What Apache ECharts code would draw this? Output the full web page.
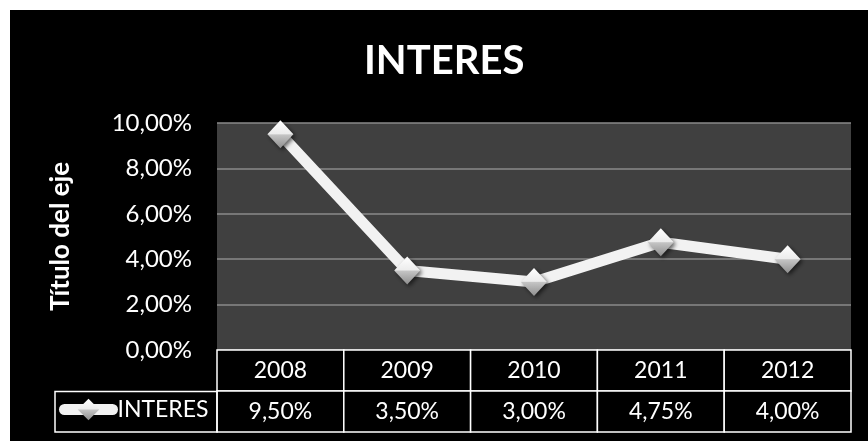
<!DOCTYPE html>
<html>
<head>
<meta charset="utf-8">
<script src="https://cdn.jsdelivr.net/npm/echarts@6/dist/echarts.min.js"></script>
<style>
  html, body { margin: 0; padding: 0; background: #ffffff; }
  #chart { position: absolute; left: 10px; top: 10px; width: 858px; height: 431px; }
</style>
</head>
<body>
<div id="chart"></div>
<script>
// Chart data
const years = ['2008', '2009', '2010', '2011', '2012'];
const interes = [0.095, 0.035, 0.03, 0.0475, 0.04];
const yMin = 0;
const yMax = 0.10;
const yStep = 0.02;
const seriesName = 'INTERES';
const chartTitle = 'INTERES';
const axisTitle = 'Título del eje';

// Spanish-style percentage: 9,50%
const pct = v => (v * 100).toFixed(2).replace('.', ',') + '%';

// Data table under the plot: row 0 = years, row 1 = values
const tableRows = [years, interes.map(pct)];
const tableCells = [];
tableRows.forEach((row, r) => row.forEach((_, c) => tableCells.push([c, r])));

const FONT = 'Lato, "Open Sans", sans-serif';

const markerFill = new echarts.graphic.LinearGradient(0, 0, 0, 1, [
  { offset: 0, color: '#ffffff' },
  { offset: 0.48, color: '#ececec' },
  { offset: 0.52, color: '#c4c4c4' },
  { offset: 1, color: '#8e8e8e' }
]);

const chart = echarts.init(document.getElementById('chart'), null, { renderer: 'canvas' });

chart.setOption({
  backgroundColor: '#000000',
  animation: false,
  title: {
    text: chartTitle,
    left: 354,
    top: 31,
    padding: 0,
    textStyle: { color: '#ffffff', fontSize: 40, fontWeight: 'bold', fontFamily: FONT }
  },
  legend: {
    data: [seriesName],
    left: 49,
    top: 388,
    padding: 0,
    itemWidth: 48,
    itemHeight: 27,
    textStyle: { color: '#ffffff', fontSize: 23, fontFamily: FONT },
    lineStyle: { width: 11, color: '#f2f2f2', cap: 'round' }
  },
  grid: [
    { left: 207, top: 113, width: 634, height: 227, show: true, backgroundColor: '#404040', borderWidth: 0 },
    { left: 207, top: 340, width: 634, height: 82, show: false }
  ],
  xAxis: [
    {
      type: 'category', gridIndex: 0, data: years, boundaryGap: true,
      axisLine: { show: false }, axisTick: { show: false }, axisLabel: { show: false }
    },
    {
      type: 'category', gridIndex: 1, data: years, boundaryGap: true,
      axisLine: { show: false }, axisTick: { show: false }, axisLabel: { show: false }
    }
  ],
  yAxis: [
    {
      type: 'value', gridIndex: 0, min: yMin, max: yMax, interval: yStep,
      axisLine: { show: false }, axisTick: { show: false },
      axisLabel: { color: '#ffffff', fontSize: 24, fontFamily: FONT, margin: 25, formatter: pct },
      splitLine: { lineStyle: { color: '#8a8a8a', width: 1.5 } },
      name: axisTitle, nameLocation: 'middle', nameRotate: 90, nameGap: 143,
      nameTextStyle: { color: '#ffffff', fontSize: 26, fontWeight: 'bold', fontFamily: FONT }
    },
    {
      type: 'category', gridIndex: 1, data: ['year', 'value'], inverse: true,
      axisLine: { show: false }, axisTick: { show: false }, axisLabel: { show: false },
      splitLine: { show: false }
    }
  ],
  graphic: [
    {
      type: 'rect', z: 10,
      shape: { x: 45, y: 381.5, width: 162, height: 40.5 },
      style: { fill: 'none', stroke: '#ffffff', lineWidth: 1.5 }
    }
  ],
  series: [
    {
      name: seriesName,
      type: 'line',
      xAxisIndex: 0, yAxisIndex: 0,
      data: interes,
      symbol: 'diamond',
      symbolSize: [26, 28],
      showAllSymbol: true,
      lineStyle: { color: '#f2f2f2', width: 11, join: 'round' },
      itemStyle: {
        color: markerFill,
        shadowBlur: 4, shadowColor: 'rgba(0,0,0,0.6)', shadowOffsetX: 2, shadowOffsetY: 2
      },
      emphasis: { disabled: true }
    },
    {
      name: 'tabla',
      type: 'custom',
      xAxisIndex: 1, yAxisIndex: 1,
      data: tableCells,
      silent: true,
      renderItem: (params, api) => {
        const c = api.value(0);
        const r = api.value(1);
        const p = api.coord([c, r]);
        const s = api.size([1, 1]);
        return {
          type: 'group',
          children: [
            {
              type: 'rect',
              shape: { x: p[0] - s[0] / 2, y: p[1] - s[1] / 2, width: s[0], height: s[1] },
              style: { fill: '#000000', stroke: '#ffffff', lineWidth: 1.5 }
            },
            {
              type: 'text',
              style: {
                x: p[0], y: p[1], text: tableRows[r][c],
                fill: '#ffffff', font: '23px ' + FONT, align: 'center', verticalAlign: 'middle'
              }
            }
          ]
        };
      }
    }
  ]
});
</script>
</body>
</html>
